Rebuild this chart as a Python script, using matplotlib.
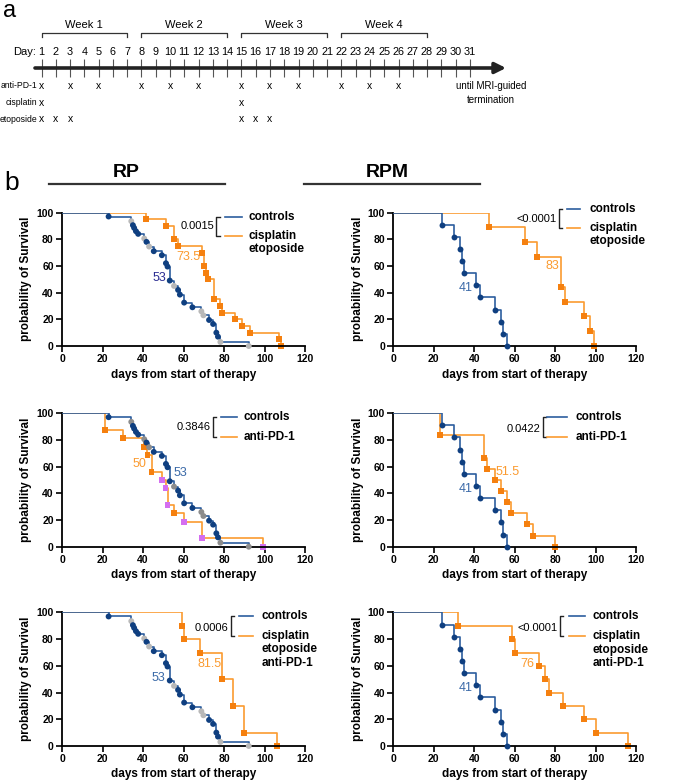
import numpy as np
import matplotlib.pyplot as plt

plt.rcParams['font.family'] = ['Liberation Sans', 'DejaVu Sans']

BLUE_LINE = '#2c5d9e'
BLUE_DOT = '#0f3f80'
BLUE_TXT = '#3b6aa8'
NAVY_TXT = '#2b2d92'
ORANGE_LINE = '#fb9b30'
ORANGE_SQ = '#f5800f'
GRAY_L = '#b8b8b8'
GRAY_D = '#8c8c8c'
PURPLE = '#d46ef0'

# ---- panel a: schedule ----
days = list(range(1, 32))
weeks = ['Week 1', 'Week 2', 'Week 3', 'Week 4']
week_start = [1, 8, 15, 22]
week_end = [7, 14, 21, 28]
drugs = ['anti-PD-1', 'cisplatin', 'etoposide']
anti_pd1_days = [1, 3, 5, 8, 10, 12, 15, 17, 19, 22, 24, 26]
cisplatin_days = [1, 15]
etoposide_days = [1, 2, 3, 15, 16, 17]

# ---- panel b: survival data (time in days, survival in %) ----
rp_ctrl_t = [23, 34.2, 35, 35.6, 36.5, 37.6, 40.6, 41.7, 43, 45.3, 49.3, 51.3, 52.1, 53.2,
             55.3, 57.3, 58.2, 60.3, 64.4, 68.8, 69.8, 72.6, 74.6, 76.2, 77, 78.2, 92.2]
rp_ctrl_s = [97, 93.5, 90.5, 88.5, 86, 84, 80.5, 78, 74.5, 71, 68, 62, 59.5, 49,
             45, 42, 38.5, 32.5, 29, 26, 23, 19.5, 16.5, 10, 7, 3, 0]
rp_ctrl_gray = [1, 6, 8, 14, 19, 20, 25, 26]

rp_chemo_t = [41.4, 51.3, 55.2, 57.2, 69, 70, 71.2, 72.2, 75.1, 78.1, 79.1, 85.2, 89.1, 93, 106.9, 108]
rp_chemo_s = [95, 90, 80, 75, 70, 60, 55, 50, 35, 30, 25, 20, 15, 10, 5, 0]

rp_pd1_t = [21.4, 30.2, 40.3, 42.2, 44.2, 49.3, 51.1, 52.1, 55.2, 60.2, 69.2, 99.1]
rp_pd1_s = [87.5, 81.25, 75, 68.75, 56.25, 50, 43.75, 31.25, 25, 18.75, 6.25, 0]
rp_pd1_purple = [5, 6, 7, 9, 10, 11]

rp_combo_t = [59.2, 60.2, 68.2, 79.1, 84.2, 90.1, 106]
rp_combo_s = [90, 80, 70, 50, 30, 10, 0]

rpm_ctrl_t = [24, 30, 33, 34, 35, 41, 43, 50, 53, 54, 56]
rpm_ctrl_s = [90.9, 81.8, 72.7, 63.6, 54.5, 45.5, 36.4, 27.3, 18.2, 9.1, 0]

rpm_chemo_t = [47, 65, 71, 83, 85, 94, 97, 99]
rpm_chemo_s = [88.9, 77.8, 66.7, 44.4, 33.3, 22.2, 11.1, 0]

rpm_pd1_t = [23, 45, 46.2, 50, 53, 56, 58, 66, 69, 80]
rpm_pd1_s = [83.3, 66.7, 58.3, 50, 41.7, 33.3, 25, 16.7, 8.3, 0]

rpm_combo_t = [32, 58.8, 60, 72, 75, 77, 84, 94, 100, 116]
rpm_combo_s = [90, 80, 70, 60, 50, 40, 30, 20, 10, 0]

fig = plt.figure(figsize=(6.77, 7.83), dpi=100)

# header overlay in pixel coords
ov = fig.add_axes([0, 0, 1, 1])
ov.set_xlim(0, 677)
ov.set_ylim(783, 0)
ov.axis('off')
ov.text(3, 17, 'a', fontsize=17, va='baseline')
ov.text(4, 190, 'b', fontsize=19, va='baseline')
ov.text(126, 177, 'RP', fontsize=14, fontweight='bold', ha='center', va='baseline')
ov.text(387, 177, 'RPM', fontsize=14, fontweight='bold', ha='center', va='baseline')
ov.plot([49, 225], [184, 184], color='#333', lw=1.6)
ov.plot([304, 480], [184, 184], color='#333', lw=1.6)

# timeline
px_day = 14.28
tl = fig.add_axes([0, 1 - 130 / 783, 1, 130 / 783])
tl.set_xlim(1 - 41.5 / px_day, 1 + (677 - 41.5) / px_day)
tl.set_ylim(130, 0)
tl.axis('off')
tl.annotate('', xy=(1 + (506 - 41.5) / px_day, 68), xytext=(1 + (35 - 41.5) / px_day, 68),
            arrowprops=dict(arrowstyle='-|>', lw=2.6, color='#222', mutation_scale=16,
                            shrinkA=0, shrinkB=0))
tl.vlines(days, 59, 77, color='#555', lw=0.8)
for d in days:
    tl.text(d, 52, str(d), ha='center', va='center', fontsize=7.8)
tl.text(1 + (36 - 41.5) / px_day, 52, 'Day:', ha='right', va='center', fontsize=8)
for w, a, b in zip(weeks, week_start, week_end):
    tl.plot([a, a, b, b], [37, 33, 33, 37], color='#333', lw=0.9)
    tl.text((a + b) / 2, 25.5, w, ha='center', va='center', fontsize=8)
lab_x = 1 + (37.5 - 41.5) / px_day
for name, dd, y in zip(drugs, [anti_pd1_days, cisplatin_days, etoposide_days], [86, 102.5, 119.5]):
    tl.text(lab_x, y, name, ha='right', va='center', fontsize=6.2)
    for d in dd:
        tl.text(d, y, 'x', ha='center', va='center', fontsize=7.5)
tl.text(1 + (491 - 41.5) / px_day, 86, 'until MRI-guided', ha='center', va='center', fontsize=7)
tl.text(1 + (491 - 41.5) / px_day, 100, 'termination', ha='center', va='center', fontsize=7)


def km(ax, t, s, line_c, marker, colors, z):
    ax.plot([0] + t, [100] + s, drawstyle='steps-post', color=line_c, lw=1.2, zorder=z)
    ax.scatter(t, s, marker=marker, c=colors, s=18, zorder=z + 0.5, clip_on=False, linewidths=0)


def bracket(ax, bx, yt, yb, pval, py, lx0, lx1, tx, labels):
    ax.plot([bx + 1.6, bx, bx, bx + 1.6], [yt, yt, yb, yb], color='#222', lw=1, clip_on=False)
    ax.text(bx - 1.2, py, pval, ha='right', va='center', fontsize=8)
    ax.plot([lx0, lx1], [yt, yt], color=BLUE_LINE, lw=1.2, clip_on=False)
    ax.plot([lx0, lx1], [yb, yb], color=ORANGE_LINE, lw=1.2, clip_on=False)
    ax.text(tx, yt, 'controls', va='center', fontsize=8.5, fontweight='bold')
    for i, lab in enumerate(labels):
        ax.text(tx, yb - 10 * i, lab, va='center', fontsize=8.5, fontweight='bold')


def style(ax):
    ax.set_xlim(0, 120)
    ax.set_ylim(0, 100)
    ax.set_xticks(np.arange(0, 121, 20))
    ax.set_yticks(np.arange(0, 101, 20))
    for sp in ['top', 'right']:
        ax.spines[sp].set_visible(False)
    for sp in ['left', 'bottom']:
        ax.spines[sp].set_linewidth(1.3)
    ax.tick_params(direction='out', length=4, width=1.2, labelsize=7.5, pad=2)
    for lab in ax.get_xticklabels() + ax.get_yticklabels():
        lab.set_fontweight('bold')
    ax.set_xlabel('days from start of therapy', fontsize=8.5, fontweight='bold', labelpad=3)
    ax.set_ylabel('probability of Survival', fontsize=8.5, fontweight='bold', labelpad=3)


lx, rx, w = 0.0916, 0.581, 0.359
bottoms = [0.5581, 0.3018, 0.0473]
h = 0.1705

ctrl_rp_cols = [GRAY_L if i in rp_ctrl_gray else BLUE_DOT for i in range(len(rp_ctrl_t))]
ctrl_rp_cols_d = [GRAY_D if i in rp_ctrl_gray else BLUE_DOT for i in range(len(rp_ctrl_t))]

# top-left
ax = fig.add_axes([lx, bottoms[0], w, h])
km(ax, rp_chemo_t, rp_chemo_s, ORANGE_LINE, 's', ORANGE_SQ, 2)
km(ax, rp_ctrl_t, rp_ctrl_s, BLUE_LINE, 'o', ctrl_rp_cols, 3)
bracket(ax, 76.2, 97, 82.5, '0.0015', 89.7, 80.3, 88.7, 92.2, ['cisplatin', 'etoposide'])
ax.text(48, 51, '53', color=NAVY_TXT, fontsize=9, ha='center', va='center')
ax.text(62.2, 67, '73.5', color=ORANGE_LINE, fontsize=9, ha='center', va='center')
style(ax)

# top-right
ax = fig.add_axes([rx, bottoms[0], w, h])
km(ax, rpm_chemo_t, rpm_chemo_s, ORANGE_LINE, 's', ORANGE_SQ, 2)
km(ax, rpm_ctrl_t, rpm_ctrl_s, BLUE_LINE, 'o', BLUE_DOT, 3)
bracket(ax, 81.6, 103, 88.5, '<0.0001', 95, 85.7, 92.3, 96.9, ['cisplatin', 'etoposide'])
ax.text(35.6, 43.6, '41', color=BLUE_TXT, fontsize=9, ha='center', va='center')
ax.text(78.5, 59.6, '83', color=ORANGE_LINE, fontsize=9, ha='center', va='center')
style(ax)

# middle-left
ax = fig.add_axes([lx, bottoms[1], w, h])
pd1_cols = [PURPLE if i in rp_pd1_purple else ORANGE_SQ for i in range(len(rp_pd1_t))]
km(ax, rp_pd1_t, rp_pd1_s, ORANGE_LINE, 's', pd1_cols, 2)
km(ax, rp_ctrl_t, rp_ctrl_s, BLUE_LINE, 'o', ctrl_rp_cols_d, 3)
bracket(ax, 74.6, 97.5, 82, '0.3846', 89.5, 78.7, 86.4, 89.8, ['anti-PD-1'])
ax.text(38, 61.75, '50', color=ORANGE_LINE, fontsize=9, ha='center', va='center')
ax.text(58.5, 55.5, '53', color=BLUE_TXT, fontsize=9, ha='center', va='center')
style(ax)

# middle-right
ax = fig.add_axes([rx, bottoms[1], w, h])
km(ax, rpm_pd1_t, rpm_pd1_s, ORANGE_LINE, 's', ORANGE_SQ, 2)
km(ax, rpm_ctrl_t, rpm_ctrl_s, BLUE_LINE, 'o', BLUE_DOT, 3)
bracket(ax, 73.7, 97, 82, '0.0422', 88.5, 75.8, 85.7, 89.8, ['anti-PD-1'])
ax.text(35.6, 43.25, '41', color=BLUE_TXT, fontsize=9, ha='center', va='center')
ax.text(56.5, 55.75, '51.5', color=ORANGE_LINE, fontsize=9, ha='center', va='center')
style(ax)

# bottom-left
ax = fig.add_axes([lx, bottoms[2], w, h])
km(ax, rp_combo_t, rp_combo_s, ORANGE_LINE, 's', ORANGE_SQ, 2)
km(ax, rp_ctrl_t, rp_ctrl_s, BLUE_LINE, 'o', ctrl_rp_cols, 3)
bracket(ax, 83.2, 97, 82.5, '0.0006', 88, 87.3, 94.2, 98.6, ['cisplatin', 'etoposide', 'anti-PD-1'])
ax.text(47.7, 51, '53', color=BLUE_TXT, fontsize=9, ha='center', va='center')
ax.text(72.8, 61.25, '81.5', color=ORANGE_LINE, fontsize=9, ha='center', va='center')
style(ax)

# bottom-right
ax = fig.add_axes([rx, bottoms[2], w, h])
km(ax, rpm_combo_t, rpm_combo_s, ORANGE_LINE, 's', ORANGE_SQ, 2)
km(ax, rpm_ctrl_t, rpm_ctrl_s, BLUE_LINE, 'o', BLUE_DOT, 3)
bracket(ax, 82.4, 97, 82, '<0.0001', 88.3, 86.5, 94.8, 98.4, ['cisplatin', 'etoposide', 'anti-PD-1'])
ax.text(35.6, 43.5, '41', color=BLUE_TXT, fontsize=9, ha='center', va='center')
ax.text(66, 61.5, '76', color=ORANGE_LINE, fontsize=9, ha='center', va='center')
style(ax)

fig.savefig('out.png', dpi=100)
